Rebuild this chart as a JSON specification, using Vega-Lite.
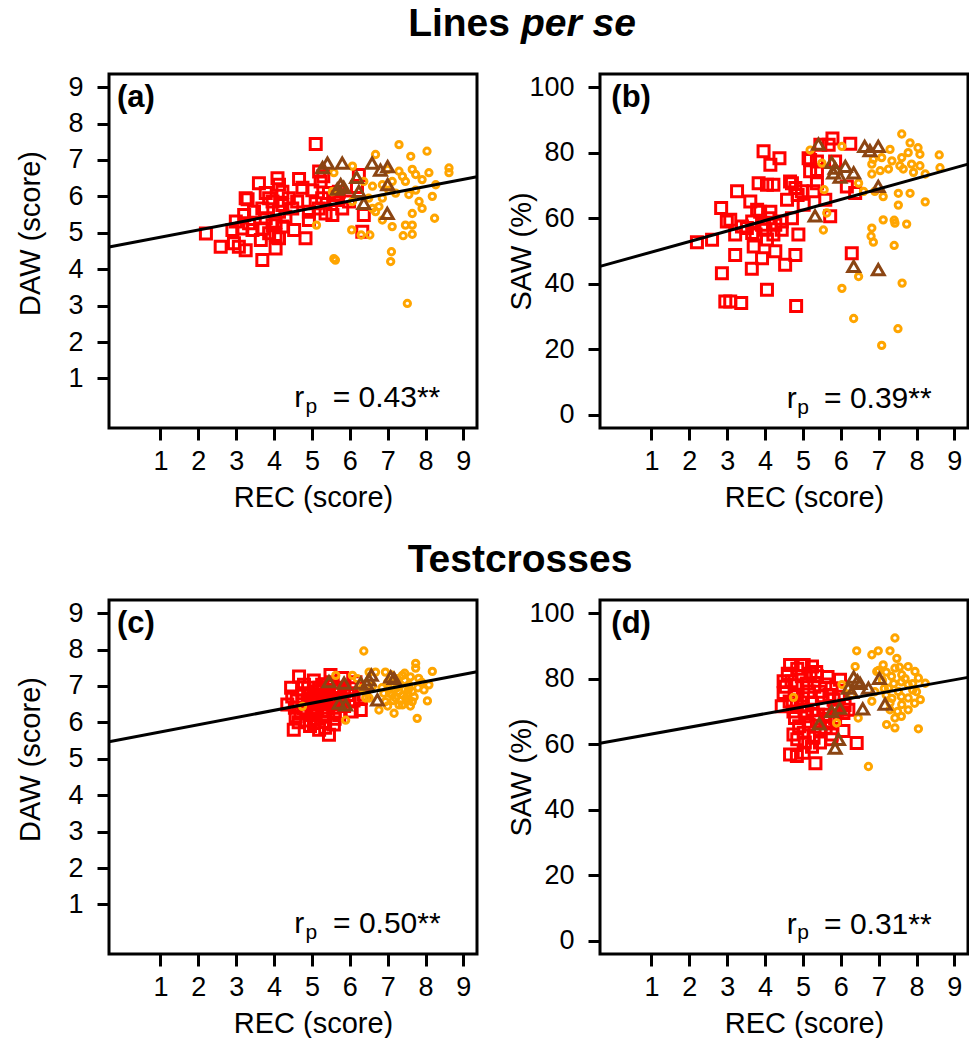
{
  "$schema": "https://vega.github.io/schema/vega-lite/v6.json",
  "padding": {"left": 14, "top": 3, "right": 0, "bottom": 0},
  "config": {
    "font": "Liberation Sans",
    "view": {"stroke": "black", "strokeWidth": 3},
    "axis": {"domain": false, "grid": false, "tickColor": "black", "tickWidth": 3, "tickSize": 12, "labelFontSize": 27, "labelColor": "black", "labelFont": "Liberation Sans", "titleFont": "Liberation Sans", "titleFontSize": 29, "titleFontWeight": "normal", "titleColor": "black", "labelOverlap": false, "labelFlush": false},
    "axisX": {"labelBaseline": "alphabetic", "labelPadding": 29, "titleBaseline": "alphabetic", "titleAlign": "center", "titleX": 204, "titleY": 78},
    "axisY": {"labelPadding": 14, "titleAngle": 270, "titleBaseline": "alphabetic", "titleAlign": "center", "titleX": -70},
    "title": {"font": "Liberation Sans", "fontSize": 39, "fontWeight": "bold", "color": "black", "frame": "group", "baseline": "alphabetic", "offset": 29},
    "point": {"opacity": 1, "filled": false, "strokeWidth": 3},
    "text": {"color": "black", "font": "Liberation Sans", "baseline": "alphabetic"}
  },
  "datasets": {
    "a": [
      {"x":5.10,"y":7.44,"g":"A"},{"x":3.60,"y":6.36,"g":"A"},{"x":4.09,"y":6.50,"g":"A"},{"x":4.13,"y":6.32,"g":"A"},{"x":4.66,"y":6.48,"g":"A"},{"x":3.30,"y":5.92,"g":"A"},{"x":3.78,"y":6.09,"g":"A"},{"x":4.22,"y":6.13,"g":"A"},{"x":4.75,"y":6.24,"g":"A"},{"x":5.01,"y":6.17,"g":"A"},{"x":5.23,"y":6.41,"g":"A"},{"x":5.27,"y":5.95,"g":"A"},{"x":5.45,"y":6.09,"g":"A"},{"x":5.62,"y":5.90,"g":"A"},{"x":5.80,"y":5.67,"g":"A"},{"x":6.24,"y":6.59,"g":"A"},{"x":6.37,"y":5.49,"g":"A"},{"x":6.33,"y":5.03,"g":"A"},{"x":5.54,"y":5.49,"g":"A"},{"x":2.99,"y":5.31,"g":"A"},{"x":3.21,"y":5.49,"g":"A"},{"x":3.47,"y":5.58,"g":"A"},{"x":3.69,"y":5.67,"g":"A"},{"x":3.96,"y":5.86,"g":"A"},{"x":4.22,"y":5.76,"g":"A"},{"x":4.48,"y":5.67,"g":"A"},{"x":4.92,"y":5.58,"g":"A"},{"x":5.10,"y":5.81,"g":"A"},{"x":2.90,"y":5.08,"g":"A"},{"x":3.16,"y":5.12,"g":"A"},{"x":3.43,"y":5.08,"g":"A"},{"x":3.69,"y":5.12,"g":"A"},{"x":3.96,"y":5.21,"g":"A"},{"x":4.22,"y":5.17,"g":"A"},{"x":4.53,"y":5.08,"g":"A"},{"x":2.20,"y":4.98,"g":"A"},{"x":2.59,"y":4.62,"g":"A"},{"x":2.94,"y":4.71,"g":"A"},{"x":3.07,"y":4.62,"g":"A"},{"x":3.25,"y":4.52,"g":"A"},{"x":3.69,"y":4.25,"g":"A"},{"x":4.04,"y":4.57,"g":"A"},{"x":3.65,"y":4.80,"g":"A"},{"x":4.13,"y":4.85,"g":"A"},{"x":4.83,"y":4.85,"g":"A"},{"x":3.78,"y":5.40,"g":"A"},{"x":4.04,"y":5.30,"g":"A"},{"x":4.30,"y":5.44,"g":"A"},{"x":3.34,"y":5.26,"g":"A"},{"x":3.87,"y":5.95,"g":"A"},{"x":4.13,"y":5.58,"g":"A"},{"x":4.39,"y":5.95,"g":"A"},{"x":4.61,"y":5.86,"g":"A"},{"x":3.87,"y":4.99,"g":"A"},{"x":4.04,"y":4.94,"g":"A"},{"x":4.92,"y":5.35,"g":"A"},{"x":5.18,"y":5.67,"g":"A"},{"x":5.36,"y":5.53,"g":"A"},{"x":5.71,"y":6.13,"g":"A"},{"x":5.98,"y":5.86,"g":"A"},{"x":6.19,"y":6.26,"g":"A"},{"x":5.19,"y":6.68,"g":"A"},{"x":5.30,"y":6.55,"g":"A"},{"x":3.25,"y":5.95,"g":"A"},{"x":5.63,"y":6.04,"g":"A"},
      {"x":7.30,"y":7.42,"g":"B"},{"x":8.04,"y":7.24,"g":"B"},{"x":7.61,"y":7.10,"g":"B"},{"x":6.68,"y":7.15,"g":"B"},{"x":6.07,"y":6.83,"g":"B"},{"x":8.62,"y":6.78,"g":"B"},{"x":8.62,"y":6.65,"g":"B"},{"x":8.09,"y":6.65,"g":"B"},{"x":7.65,"y":6.74,"g":"B"},{"x":7.30,"y":6.69,"g":"B"},{"x":7.91,"y":6.46,"g":"B"},{"x":7.47,"y":6.41,"g":"B"},{"x":7.12,"y":6.41,"g":"B"},{"x":6.86,"y":6.32,"g":"B"},{"x":6.60,"y":6.28,"g":"B"},{"x":6.37,"y":6.41,"g":"B"},{"x":5.58,"y":6.65,"g":"B"},{"x":5.54,"y":6.13,"g":"B"},{"x":7.74,"y":6.17,"g":"B"},{"x":8.27,"y":6.32,"g":"B"},{"x":8.18,"y":6.00,"g":"B"},{"x":7.83,"y":5.86,"g":"B"},{"x":7.56,"y":6.05,"g":"B"},{"x":7.21,"y":6.09,"g":"B"},{"x":6.86,"y":5.95,"g":"B"},{"x":6.60,"y":5.67,"g":"B"},{"x":6.77,"y":5.72,"g":"B"},{"x":7.65,"y":5.53,"g":"B"},{"x":7.91,"y":5.67,"g":"B"},{"x":8.24,"y":5.40,"g":"B"},{"x":7.12,"y":5.17,"g":"B"},{"x":7.47,"y":5.21,"g":"B"},{"x":7.65,"y":4.96,"g":"B"},{"x":7.41,"y":4.92,"g":"B"},{"x":6.86,"y":5.35,"g":"B"},{"x":6.68,"y":5.58,"g":"B"},{"x":5.12,"y":5.21,"g":"B"},{"x":6.05,"y":5.08,"g":"B"},{"x":6.30,"y":4.94,"g":"B"},{"x":6.53,"y":4.94,"g":"B"},{"x":5.58,"y":4.29,"g":"B"},{"x":5.62,"y":4.25,"g":"B"},{"x":7.10,"y":4.48,"g":"B"},{"x":7.08,"y":4.21,"g":"B"},{"x":7.52,"y":3.06,"g":"B"},{"x":6.07,"y":5.86,"g":"B"},{"x":6.50,"y":5.95,"g":"B"},{"x":7.03,"y":6.17,"g":"B"},{"x":7.39,"y":6.55,"g":"B"},{"x":7.74,"y":6.60,"g":"B"},{"x":7.00,"y":6.74,"g":"B"},{"x":7.65,"y":5.21,"g":"B"},
      {"x":5.41,"y":6.91,"g":"C"},{"x":5.28,"y":6.79,"g":"C"},{"x":5.80,"y":6.91,"g":"C"},{"x":6.59,"y":6.91,"g":"C"},{"x":6.81,"y":6.72,"g":"C"},{"x":7.00,"y":6.82,"g":"C"},{"x":6.18,"y":6.52,"g":"C"},{"x":5.76,"y":6.32,"g":"C"},{"x":5.84,"y":6.25,"g":"C"},{"x":6.24,"y":6.14,"g":"C"},{"x":7.00,"y":6.32,"g":"C"},{"x":6.37,"y":5.81,"g":"C"},{"x":6.99,"y":5.53,"g":"C"},{"x":5.67,"y":6.20,"g":"C"}
    ],
    "b": [
      {"x":3.96,"y":80.4,"g":"A"},{"x":4.38,"y":78.3,"g":"A"},{"x":4.14,"y":76.3,"g":"A"},{"x":3.26,"y":68.2,"g":"A"},{"x":3.83,"y":70.7,"g":"A"},{"x":4.05,"y":70.2,"g":"A"},{"x":4.22,"y":70.2,"g":"A"},{"x":4.66,"y":71.2,"g":"A"},{"x":4.80,"y":69.2,"g":"A"},{"x":4.58,"y":65.6,"g":"A"},{"x":4.86,"y":67.1,"g":"A"},{"x":2.84,"y":63.1,"g":"A"},{"x":3.61,"y":65.1,"g":"A"},{"x":3.79,"y":62.6,"g":"A"},{"x":2.99,"y":59.0,"g":"A"},{"x":3.08,"y":59.5,"g":"A"},{"x":3.21,"y":55.0,"g":"A"},{"x":3.39,"y":57.5,"g":"A"},{"x":3.66,"y":59.0,"g":"A"},{"x":3.92,"y":58.0,"g":"A"},{"x":4.09,"y":60.0,"g":"A"},{"x":4.27,"y":58.0,"g":"A"},{"x":4.44,"y":56.5,"g":"A"},{"x":4.71,"y":60.0,"g":"A"},{"x":4.14,"y":62.0,"g":"A"},{"x":3.75,"y":55.0,"g":"A"},{"x":4.05,"y":53.5,"g":"A"},{"x":4.27,"y":49.9,"g":"A"},{"x":3.70,"y":51.4,"g":"A"},{"x":3.92,"y":47.8,"g":"A"},{"x":3.21,"y":48.8,"g":"A"},{"x":4.53,"y":45.8,"g":"A"},{"x":4.80,"y":48.8,"g":"A"},{"x":2.86,"y":43.2,"g":"A"},{"x":3.65,"y":44.6,"g":"A"},{"x":2.20,"y":52.7,"g":"A"},{"x":2.60,"y":53.4,"g":"A"},{"x":4.05,"y":38.2,"g":"A"},{"x":2.95,"y":34.6,"g":"A"},{"x":3.08,"y":34.6,"g":"A"},{"x":3.37,"y":34.1,"g":"A"},{"x":4.82,"y":33.2,"g":"A"},{"x":3.52,"y":57.0,"g":"A"},{"x":3.66,"y":55.5,"g":"A"},{"x":4.01,"y":56.5,"g":"A"},{"x":4.22,"y":55.0,"g":"A"},{"x":4.44,"y":59.0,"g":"A"},{"x":3.87,"y":62.0,"g":"A"},{"x":5.78,"y":84.3,"g":"A"},{"x":5.68,"y":82.4,"g":"A"},{"x":5.46,"y":82.4,"g":"A"},{"x":6.25,"y":82.7,"g":"A"},{"x":5.15,"y":78.3,"g":"A"},{"x":5.37,"y":77.3,"g":"A"},{"x":5.85,"y":77.3,"g":"A"},{"x":6.16,"y":69.7,"g":"A"},{"x":5.19,"y":74.3,"g":"A"},{"x":4.71,"y":70.7,"g":"A"},{"x":4.97,"y":68.2,"g":"A"},{"x":5.28,"y":68.2,"g":"A"},{"x":5.37,"y":70.7,"g":"A"},{"x":5.59,"y":65.6,"g":"A"},{"x":5.02,"y":64.1,"g":"A"},{"x":5.72,"y":60.6,"g":"A"},{"x":4.88,"y":55.0,"g":"A"},{"x":6.29,"y":49.3,"g":"A"},{"x":5.37,"y":74.7,"g":"A"},{"x":6.38,"y":67.7,"g":"A"},{"x":5.19,"y":77.8,"g":"A"},
      {"x":7.61,"y":85.7,"g":"B"},{"x":7.83,"y":83.0,"g":"B"},{"x":8.04,"y":81.5,"g":"B"},{"x":8.60,"y":79.3,"g":"B"},{"x":8.09,"y":79.5,"g":"B"},{"x":7.78,"y":80.0,"g":"B"},{"x":7.61,"y":78.5,"g":"B"},{"x":7.30,"y":81.0,"g":"B"},{"x":7.08,"y":78.5,"g":"B"},{"x":6.82,"y":76.5,"g":"B"},{"x":7.35,"y":77.5,"g":"B"},{"x":7.56,"y":76.0,"g":"B"},{"x":7.87,"y":76.5,"g":"B"},{"x":8.09,"y":76.0,"g":"B"},{"x":8.62,"y":75.4,"g":"B"},{"x":8.23,"y":73.5,"g":"B"},{"x":7.92,"y":74.0,"g":"B"},{"x":7.65,"y":75.0,"g":"B"},{"x":7.26,"y":75.0,"g":"B"},{"x":7.04,"y":74.5,"g":"B"},{"x":6.82,"y":73.5,"g":"B"},{"x":6.60,"y":68.2,"g":"B"},{"x":6.47,"y":70.7,"g":"B"},{"x":6.90,"y":68.2,"g":"B"},{"x":7.12,"y":66.6,"g":"B"},{"x":7.52,"y":67.6,"g":"B"},{"x":7.83,"y":67.6,"g":"B"},{"x":8.23,"y":65.0,"g":"B"},{"x":7.52,"y":64.0,"g":"B"},{"x":7.12,"y":59.5,"g":"B"},{"x":7.41,"y":59.4,"g":"B"},{"x":7.43,"y":58.5,"g":"B"},{"x":7.74,"y":58.2,"g":"B"},{"x":6.82,"y":57.0,"g":"B"},{"x":6.80,"y":54.5,"g":"B"},{"x":6.86,"y":52.7,"g":"B"},{"x":7.41,"y":51.7,"g":"B"},{"x":5.56,"y":68.7,"g":"B"},{"x":5.54,"y":56.4,"g":"B"},{"x":5.63,"y":61.6,"g":"B"},{"x":5.19,"y":80.8,"g":"B"},{"x":6.03,"y":81.9,"g":"B"},{"x":5.50,"y":76.8,"g":"B"},{"x":6.47,"y":42.2,"g":"B"},{"x":6.03,"y":38.6,"g":"B"},{"x":7.62,"y":40.2,"g":"B"},{"x":6.34,"y":29.4,"g":"B"},{"x":7.51,"y":26.3,"g":"B"},{"x":7.08,"y":21.2,"g":"B"},{"x":6.86,"y":78.0,"g":"B"},
      {"x":5.41,"y":82.6,"g":"C"},{"x":6.63,"y":81.9,"g":"C"},{"x":6.99,"y":81.9,"g":"C"},{"x":6.77,"y":80.6,"g":"C"},{"x":5.76,"y":77.0,"g":"C"},{"x":5.85,"y":75.3,"g":"C"},{"x":6.12,"y":75.8,"g":"C"},{"x":6.34,"y":73.8,"g":"C"},{"x":5.98,"y":72.5,"g":"C"},{"x":5.81,"y":73.8,"g":"C"},{"x":6.99,"y":69.7,"g":"C"},{"x":5.32,"y":60.7,"g":"C"},{"x":6.34,"y":45.3,"g":"C"},{"x":6.99,"y":44.3,"g":"C"}
    ],
    "c": [
      {"x":4.66,"y":7.26,"g":"A"},{"x":4.79,"y":7.03,"g":"A"},{"x":4.48,"y":6.71,"g":"A"},{"x":4.35,"y":6.49,"g":"A"},{"x":4.57,"y":6.17,"g":"A"},{"x":4.52,"y":5.80,"g":"A"},{"x":5.05,"y":5.98,"g":"A"},{"x":5.19,"y":5.80,"g":"A"},{"x":5.45,"y":5.66,"g":"A"},{"x":5.58,"y":5.94,"g":"A"},{"x":5.49,"y":7.30,"g":"A"},{"x":5.27,"y":7.03,"g":"A"},{"x":5.10,"y":6.75,"g":"A"},{"x":4.92,"y":6.49,"g":"A"},{"x":5.27,"y":6.29,"g":"A"},{"x":5.54,"y":6.49,"g":"A"},{"x":5.80,"y":7.22,"g":"A"},{"x":5.76,"y":6.67,"g":"A"},{"x":6.02,"y":6.94,"g":"A"},{"x":6.29,"y":6.34,"g":"A"},{"x":6.29,"y":6.67,"g":"A"},{"x":4.75,"y":6.80,"g":"A"},{"x":5.14,"y":6.39,"g":"A"},{"x":5.36,"y":6.67,"g":"A"},{"x":5.63,"y":6.89,"g":"A"},{"x":5.72,"y":6.20,"g":"A"},{"x":5.01,"y":6.20,"g":"A"},{"x":4.79,"y":6.39,"g":"A"},{"x":5.32,"y":6.01,"g":"A"},{"x":5.98,"y":6.57,"g":"A"},{"x":6.37,"y":6.76,"g":"A"},{"x":5.00,"y":6.60,"g":"A"},{"x":5.20,"y":6.50,"g":"A"},{"x":5.40,"y":6.40,"g":"A"},{"x":5.10,"y":6.10,"g":"A"},{"x":5.45,"y":6.85,"g":"A"},{"x":4.90,"y":6.95,"g":"A"},{"x":5.60,"y":6.30,"g":"A"},{"x":4.60,"y":6.60,"g":"A"},{"x":5.30,"y":6.90,"g":"A"},{"x":5.55,"y":7.10,"g":"A"},{"x":4.85,"y":6.05,"g":"A"},{"x":5.15,"y":6.85,"g":"A"},{"x":4.45,"y":6.95,"g":"A"},{"x":4.70,"y":6.25,"g":"A"},{"x":4.95,"y":6.75,"g":"A"},{"x":5.05,"y":7.15,"g":"A"},{"x":5.25,"y":6.60,"g":"A"},{"x":5.35,"y":6.20,"g":"A"},{"x":5.50,"y":6.55,"g":"A"},{"x":5.65,"y":6.65,"g":"A"},{"x":5.70,"y":6.95,"g":"A"},{"x":5.85,"y":6.45,"g":"A"},{"x":5.95,"y":6.75,"g":"A"},{"x":6.10,"y":6.60,"g":"A"},{"x":6.15,"y":7.10,"g":"A"},{"x":4.55,"y":6.40,"g":"A"},{"x":4.75,"y":6.60,"g":"A"},{"x":5.00,"y":6.35,"g":"A"},{"x":5.20,"y":6.95,"g":"A"},{"x":5.40,"y":7.05,"g":"A"},{"x":5.60,"y":6.10,"g":"A"},{"x":5.85,"y":6.85,"g":"A"},{"x":6.05,"y":6.30,"g":"A"},{"x":4.65,"y":6.00,"g":"A"},{"x":4.95,"y":5.90,"g":"A"},{"x":5.35,"y":5.85,"g":"A"},{"x":5.25,"y":6.75,"g":"A"},{"x":5.05,"y":6.50,"g":"A"},
      {"x":6.37,"y":7.96,"g":"B"},{"x":7.74,"y":7.62,"g":"B"},{"x":7.74,"y":7.49,"g":"B"},{"x":8.18,"y":7.40,"g":"B"},{"x":8.09,"y":7.03,"g":"B"},{"x":8.05,"y":6.59,"g":"B"},{"x":7.78,"y":6.11,"g":"B"},{"x":7.17,"y":6.25,"g":"B"},{"x":6.77,"y":6.34,"g":"B"},{"x":5.89,"y":6.06,"g":"B"},{"x":6.07,"y":7.29,"g":"B"},{"x":6.68,"y":7.38,"g":"B"},{"x":6.94,"y":7.38,"g":"B"},{"x":7.39,"y":7.29,"g":"B"},{"x":7.56,"y":7.03,"g":"B"},{"x":7.30,"y":6.85,"g":"B"},{"x":7.48,"y":6.67,"g":"B"},{"x":7.65,"y":6.85,"g":"B"},{"x":7.03,"y":6.94,"g":"B"},{"x":7.21,"y":6.67,"g":"B"},{"x":7.39,"y":6.48,"g":"B"},{"x":6.94,"y":6.57,"g":"B"},{"x":6.51,"y":6.67,"g":"B"},{"x":6.33,"y":6.94,"g":"B"},{"x":5.63,"y":7.29,"g":"B"},{"x":4.75,"y":6.44,"g":"B"},{"x":7.82,"y":7.21,"g":"B"},{"x":7.96,"y":6.89,"g":"B"},{"x":7.21,"y":7.12,"g":"B"},{"x":7.34,"y":7.03,"g":"B"},{"x":7.52,"y":6.80,"g":"B"},{"x":7.12,"y":6.76,"g":"B"},{"x":7.65,"y":6.57,"g":"B"},{"x":7.30,"y":6.48,"g":"B"},{"x":6.42,"y":6.67,"g":"B"},{"x":6.51,"y":7.38,"g":"B"},{"x":7.10,"y":7.30,"g":"B"},{"x":7.45,"y":7.15,"g":"B"},{"x":7.60,"y":7.25,"g":"B"},{"x":7.00,"y":7.10,"g":"B"},{"x":6.85,"y":6.95,"g":"B"},{"x":7.05,"y":6.80,"g":"B"},{"x":7.25,"y":6.95,"g":"B"},{"x":7.40,"y":6.75,"g":"B"},{"x":7.55,"y":6.90,"g":"B"},{"x":7.70,"y":6.70,"g":"B"},{"x":7.15,"y":6.60,"g":"B"},{"x":7.35,"y":6.60,"g":"B"},{"x":7.55,"y":6.60,"g":"B"},{"x":7.45,"y":7.35,"g":"B"},{"x":7.25,"y":7.20,"g":"B"},{"x":7.80,"y":6.95,"g":"B"},{"x":6.90,"y":6.80,"g":"B"},{"x":7.60,"y":6.45,"g":"B"},{"x":7.00,"y":6.45,"g":"B"},{"x":6.60,"y":7.00,"g":"B"},{"x":6.20,"y":7.20,"g":"B"},{"x":7.90,"y":7.10,"g":"B"},
      {"x":5.45,"y":7.12,"g":"C"},{"x":5.85,"y":7.08,"g":"C"},{"x":6.29,"y":7.08,"g":"C"},{"x":6.51,"y":7.17,"g":"C"},{"x":6.57,"y":7.30,"g":"C"},{"x":7.08,"y":7.25,"g":"C"},{"x":7.17,"y":7.21,"g":"C"},{"x":6.73,"y":6.62,"g":"C"},{"x":5.89,"y":6.48,"g":"C"},{"x":5.72,"y":6.53,"g":"C"},{"x":6.45,"y":7.05,"g":"C"}
    ],
    "d": [
      {"x":4.66,"y":84.2,"g":"A"},{"x":5.02,"y":84.2,"g":"A"},{"x":5.24,"y":83.7,"g":"A"},{"x":4.70,"y":79.2,"g":"A"},{"x":4.49,"y":79.2,"g":"A"},{"x":4.97,"y":80.7,"g":"A"},{"x":5.37,"y":80.7,"g":"A"},{"x":5.59,"y":78.2,"g":"A"},{"x":5.76,"y":77.1,"g":"A"},{"x":5.98,"y":79.7,"g":"A"},{"x":4.49,"y":75.6,"g":"A"},{"x":4.79,"y":75.1,"g":"A"},{"x":5.15,"y":76.1,"g":"A"},{"x":4.44,"y":71.6,"g":"A"},{"x":4.84,"y":72.1,"g":"A"},{"x":5.24,"y":72.6,"g":"A"},{"x":5.55,"y":71.1,"g":"A"},{"x":6.07,"y":69.5,"g":"A"},{"x":4.79,"y":68.0,"g":"A"},{"x":5.06,"y":68.5,"g":"A"},{"x":5.37,"y":67.0,"g":"A"},{"x":5.68,"y":67.0,"g":"A"},{"x":4.75,"y":63.0,"g":"A"},{"x":5.02,"y":63.5,"g":"A"},{"x":5.28,"y":62.0,"g":"A"},{"x":5.76,"y":63.0,"g":"A"},{"x":6.07,"y":64.0,"g":"A"},{"x":6.42,"y":60.4,"g":"A"},{"x":4.66,"y":56.9,"g":"A"},{"x":4.84,"y":56.4,"g":"A"},{"x":5.02,"y":57.4,"g":"A"},{"x":5.33,"y":54.2,"g":"A"},{"x":5.24,"y":59.2,"g":"A"},{"x":5.50,"y":74.6,"g":"A"},{"x":5.81,"y":73.6,"g":"A"},{"x":5.10,"y":70.0,"g":"A"},{"x":5.40,"y":69.0,"g":"A"},{"x":5.00,"y":74.0,"g":"A"},{"x":5.30,"y":77.5,"g":"A"},{"x":5.60,"y":65.0,"g":"A"},{"x":4.90,"y":65.5,"g":"A"},{"x":5.45,"y":60.5,"g":"A"},{"x":5.90,"y":70.5,"g":"A"},{"x":4.60,"y":81.5,"g":"A"},{"x":5.20,"y":81.5,"g":"A"},{"x":4.55,"y":77.5,"g":"A"},{"x":4.85,"y":78.0,"g":"A"},{"x":5.10,"y":78.5,"g":"A"},{"x":5.45,"y":76.0,"g":"A"},{"x":5.70,"y":75.0,"g":"A"},{"x":5.95,"y":74.5,"g":"A"},{"x":4.65,"y":73.0,"g":"A"},{"x":4.95,"y":71.5,"g":"A"},{"x":5.25,"y":70.5,"g":"A"},{"x":5.60,"y":69.0,"g":"A"},{"x":5.85,"y":68.0,"g":"A"},{"x":6.10,"y":72.0,"g":"A"},{"x":4.75,"y":70.0,"g":"A"},{"x":5.15,"y":66.0,"g":"A"},{"x":5.45,"y":64.5,"g":"A"},{"x":5.75,"y":61.5,"g":"A"},{"x":5.05,"y":60.5,"g":"A"},{"x":4.85,"y":61.5,"g":"A"},{"x":5.35,"y":82.0,"g":"A"},{"x":4.85,"y":83.0,"g":"A"},{"x":5.65,"y":80.5,"g":"A"},{"x":6.20,"y":70.5,"g":"A"},
      {"x":7.43,"y":92.4,"g":"B"},{"x":6.42,"y":88.5,"g":"B"},{"x":6.82,"y":87.3,"g":"B"},{"x":6.99,"y":88.5,"g":"B"},{"x":7.30,"y":88.5,"g":"B"},{"x":7.48,"y":86.2,"g":"B"},{"x":6.38,"y":83.7,"g":"B"},{"x":7.12,"y":84.2,"g":"B"},{"x":7.43,"y":83.2,"g":"B"},{"x":7.78,"y":83.7,"g":"B"},{"x":7.96,"y":82.2,"g":"B"},{"x":7.34,"y":80.7,"g":"B"},{"x":7.61,"y":81.2,"g":"B"},{"x":8.05,"y":80.2,"g":"B"},{"x":8.23,"y":78.6,"g":"B"},{"x":7.78,"y":78.2,"g":"B"},{"x":7.26,"y":77.1,"g":"B"},{"x":7.52,"y":76.1,"g":"B"},{"x":7.78,"y":74.1,"g":"B"},{"x":8.10,"y":73.6,"g":"B"},{"x":7.30,"y":72.6,"g":"B"},{"x":7.61,"y":72.1,"g":"B"},{"x":7.78,"y":70.5,"g":"B"},{"x":7.43,"y":68.0,"g":"B"},{"x":7.21,"y":66.0,"g":"B"},{"x":7.43,"y":65.0,"g":"B"},{"x":8.05,"y":64.7,"g":"B"},{"x":6.82,"y":73.1,"g":"B"},{"x":6.20,"y":77.1,"g":"B"},{"x":6.03,"y":78.2,"g":"B"},{"x":6.29,"y":75.1,"g":"B"},{"x":6.46,"y":68.0,"g":"B"},{"x":5.89,"y":66.5,"g":"B"},{"x":4.75,"y":74.3,"g":"B"},{"x":6.73,"y":53.2,"g":"B"},{"x":6.95,"y":82.2,"g":"B"},{"x":7.10,"y":79.5,"g":"B"},{"x":7.60,"y":79.0,"g":"B"},{"x":7.90,"y":76.5,"g":"B"},{"x":7.20,"y":75.0,"g":"B"},{"x":7.50,"y":70.0,"g":"B"},{"x":7.00,"y":82.5,"g":"B"},{"x":7.20,"y":82.0,"g":"B"},{"x":7.55,"y":83.5,"g":"B"},{"x":7.70,"y":80.0,"g":"B"},{"x":7.90,"y":78.5,"g":"B"},{"x":7.40,"y":78.5,"g":"B"},{"x":7.15,"y":77.0,"g":"B"},{"x":7.60,"y":74.5,"g":"B"},{"x":7.35,"y":74.0,"g":"B"},{"x":7.95,"y":72.5,"g":"B"},{"x":7.60,"y":68.5,"g":"B"},{"x":7.30,"y":70.5,"g":"B"},{"x":8.00,"y":76.0,"g":"B"},{"x":6.90,"y":76.0,"g":"B"},
      {"x":6.34,"y":80.5,"g":"C"},{"x":6.51,"y":78.6,"g":"C"},{"x":6.73,"y":77.1,"g":"C"},{"x":7.02,"y":80.1,"g":"C"},{"x":6.29,"y":75.8,"g":"C"},{"x":6.58,"y":70.8,"g":"C"},{"x":7.17,"y":72.2,"g":"C"},{"x":5.76,"y":70.0,"g":"C"},{"x":5.97,"y":71.0,"g":"C"},{"x":5.43,"y":66.2,"g":"C"},{"x":5.94,"y":61.5,"g":"C"},{"x":5.85,"y":58.8,"g":"C"},{"x":6.20,"y":77.1,"g":"C"},{"x":6.44,"y":79.3,"g":"C"}
    ]
  },
  "columns": 2,
  "bounds": "flush",
  "spacing": {"row": 172, "column": 123},
  "concat": [
    {
      "width": 368, "height": 354,
      "title": {"text": "Lines", "anchor": "end", "dx": 33},
      "layer": [
        {"data": {"name": "a"}, "transform": [{"filter": "datum.g == 'A'"}], "mark": {"type": "point", "shape": "square", "color": "#FF0000", "size": 121},
         "encoding": {
          "x": {"field": "x", "type": "quantitative", "scale": {"domain": [-0.36, 9.36], "nice": false, "zero": false}, "axis": {"values": [1,2,3,4,5,6,7,8,9], "title": "REC (score)"}},
          "y": {"field": "y", "type": "quantitative", "scale": {"domain": [-0.36, 9.36], "nice": false, "zero": false}, "axis": {"values": [1,2,3,4,5,6,7,8,9], "title": "DAW (score)", "titleY": 159}}}},
        {"data": {"name": "a"}, "transform": [{"filter": "datum.g == 'B'"}], "mark": {"type": "point", "shape": "circle", "color": "#FFA500", "size": 40},
         "encoding": {"x": {"field": "x", "type": "quantitative"}, "y": {"field": "y", "type": "quantitative"}}},
        {"data": {"name": "a"}, "transform": [{"filter": "datum.g == 'C'"}], "mark": {"type": "point", "shape": "triangle-up", "color": "#8B4513", "size": 140},
         "encoding": {"x": {"field": "x", "type": "quantitative"}, "y": {"field": "y", "type": "quantitative"}}},
        {"data": {"values": [{"x": -0.36, "y": 4.61}, {"x": 9.36, "y": 6.54}]}, "mark": {"type": "line", "color": "black", "strokeWidth": 3},
         "encoding": {"x": {"field": "x", "type": "quantitative"}, "y": {"field": "y", "type": "quantitative"}}},
        {"data": {"values": [{}]}, "mark": {"type": "text", "align": "left", "fontSize": 31, "fontWeight": "bold"}, "encoding": {"x": {"datum": -0.15, "type": "quantitative"}, "y": {"datum": 8.45, "type": "quantitative"}, "text": {"value": "(a)"}}},
        {"data": {"values": [{}]}, "mark": {"type": "text", "align": "right", "fontSize": 30}, "encoding": {"x": {"datum": 4.80, "type": "quantitative"}, "y": {"datum": 0.22, "type": "quantitative"}, "text": {"value": "r"}}},
        {"data": {"values": [{}]}, "mark": {"type": "text", "align": "right", "fontSize": 21}, "encoding": {"x": {"datum": 5.14, "type": "quantitative"}, "y": {"datum": 0.06, "type": "quantitative"}, "text": {"value": "p"}}},
        {"data": {"values": [{}]}, "mark": {"type": "text", "align": "right", "fontSize": 30}, "encoding": {"x": {"datum": 8.39, "type": "quantitative"}, "y": {"datum": 0.22, "type": "quantitative"}, "text": {"value": "= 0.43**"}}}
      ]
    },
    {
      "width": 368, "height": 354,
      "title": {"text": "per se", "anchor": "start", "dx": -79, "fontStyle": "italic"},
      "layer": [
        {"data": {"name": "b"}, "transform": [{"filter": "datum.g == 'A'"}], "mark": {"type": "point", "shape": "square", "color": "#FF0000", "size": 121},
         "encoding": {
          "x": {"field": "x", "type": "quantitative", "scale": {"domain": [-0.36, 9.36], "nice": false, "zero": false}, "axis": {"values": [1,2,3,4,5,6,7,8,9], "title": "REC (score)"}},
          "y": {"field": "y", "type": "quantitative", "scale": {"domain": [-4, 104], "nice": false, "zero": false}, "axis": {"values": [0,20,40,60,80,100], "title": "SAW (%)", "titleY": 177}}}},
        {"data": {"name": "b"}, "transform": [{"filter": "datum.g == 'B'"}], "mark": {"type": "point", "shape": "circle", "color": "#FFA500", "size": 40},
         "encoding": {"x": {"field": "x", "type": "quantitative"}, "y": {"field": "y", "type": "quantitative"}}},
        {"data": {"name": "b"}, "transform": [{"filter": "datum.g == 'C'"}], "mark": {"type": "point", "shape": "triangle-up", "color": "#8B4513", "size": 140},
         "encoding": {"x": {"field": "x", "type": "quantitative"}, "y": {"field": "y", "type": "quantitative"}}},
        {"data": {"values": [{"x": -0.36, "y": 45.3}, {"x": 9.36, "y": 76.5}]}, "mark": {"type": "line", "color": "black", "strokeWidth": 3},
         "encoding": {"x": {"field": "x", "type": "quantitative"}, "y": {"field": "y", "type": "quantitative"}}},
        {"data": {"values": [{}]}, "mark": {"type": "text", "align": "left", "fontSize": 31, "fontWeight": "bold"}, "encoding": {"x": {"datum": -0.06, "type": "quantitative"}, "y": {"datum": 94, "type": "quantitative"}, "text": {"value": "(b)"}}},
        {"data": {"values": [{}]}, "mark": {"type": "text", "align": "right", "fontSize": 30}, "encoding": {"x": {"datum": 4.84, "type": "quantitative"}, "y": {"datum": 2.0, "type": "quantitative"}, "text": {"value": "r"}}},
        {"data": {"values": [{}]}, "mark": {"type": "text", "align": "right", "fontSize": 21}, "encoding": {"x": {"datum": 5.16, "type": "quantitative"}, "y": {"datum": 0.4, "type": "quantitative"}, "text": {"value": "p"}}},
        {"data": {"values": [{}]}, "mark": {"type": "text", "align": "right", "fontSize": 30}, "encoding": {"x": {"datum": 8.40, "type": "quantitative"}, "y": {"datum": 2.0, "type": "quantitative"}, "text": {"value": "= 0.39**"}}}
      ]
    },
    {
      "width": 368, "height": 354,
      "title": {"text": "Testcrosses", "anchor": "middle", "dx": 227, "offset": 19},
      "layer": [
        {"data": {"name": "c"}, "transform": [{"filter": "datum.g == 'A'"}], "mark": {"type": "point", "shape": "square", "color": "#FF0000", "size": 121},
         "encoding": {
          "x": {"field": "x", "type": "quantitative", "scale": {"domain": [-0.36, 9.36], "nice": false, "zero": false}, "axis": {"values": [1,2,3,4,5,6,7,8,9], "title": "REC (score)"}},
          "y": {"field": "y", "type": "quantitative", "scale": {"domain": [-0.36, 9.36], "nice": false, "zero": false}, "axis": {"values": [1,2,3,4,5,6,7,8,9], "title": "DAW (score)", "titleY": 159}}}},
        {"data": {"name": "c"}, "transform": [{"filter": "datum.g == 'B'"}], "mark": {"type": "point", "shape": "circle", "color": "#FFA500", "size": 40},
         "encoding": {"x": {"field": "x", "type": "quantitative"}, "y": {"field": "y", "type": "quantitative"}}},
        {"data": {"name": "c"}, "transform": [{"filter": "datum.g == 'C'"}], "mark": {"type": "point", "shape": "triangle-up", "color": "#8B4513", "size": 140},
         "encoding": {"x": {"field": "x", "type": "quantitative"}, "y": {"field": "y", "type": "quantitative"}}},
        {"data": {"values": [{"x": -0.36, "y": 5.47}, {"x": 9.36, "y": 7.39}]}, "mark": {"type": "line", "color": "black", "strokeWidth": 3},
         "encoding": {"x": {"field": "x", "type": "quantitative"}, "y": {"field": "y", "type": "quantitative"}}},
        {"data": {"values": [{}]}, "mark": {"type": "text", "align": "left", "fontSize": 31, "fontWeight": "bold"}, "encoding": {"x": {"datum": -0.15, "type": "quantitative"}, "y": {"datum": 8.45, "type": "quantitative"}, "text": {"value": "(c)"}}},
        {"data": {"values": [{}]}, "mark": {"type": "text", "align": "right", "fontSize": 30}, "encoding": {"x": {"datum": 4.80, "type": "quantitative"}, "y": {"datum": 0.22, "type": "quantitative"}, "text": {"value": "r"}}},
        {"data": {"values": [{}]}, "mark": {"type": "text", "align": "right", "fontSize": 21}, "encoding": {"x": {"datum": 5.14, "type": "quantitative"}, "y": {"datum": 0.06, "type": "quantitative"}, "text": {"value": "p"}}},
        {"data": {"values": [{}]}, "mark": {"type": "text", "align": "right", "fontSize": 30}, "encoding": {"x": {"datum": 8.40, "type": "quantitative"}, "y": {"datum": 0.22, "type": "quantitative"}, "text": {"value": "= 0.50**"}}}
      ]
    },
    {
      "width": 368, "height": 354,
      "layer": [
        {"data": {"name": "d"}, "transform": [{"filter": "datum.g == 'A'"}], "mark": {"type": "point", "shape": "square", "color": "#FF0000", "size": 121},
         "encoding": {
          "x": {"field": "x", "type": "quantitative", "scale": {"domain": [-0.36, 9.36], "nice": false, "zero": false}, "axis": {"values": [1,2,3,4,5,6,7,8,9], "title": "REC (score)"}},
          "y": {"field": "y", "type": "quantitative", "scale": {"domain": [-4, 104], "nice": false, "zero": false}, "axis": {"values": [0,20,40,60,80,100], "title": "SAW (%)", "titleY": 177}}}},
        {"data": {"name": "d"}, "transform": [{"filter": "datum.g == 'B'"}], "mark": {"type": "point", "shape": "circle", "color": "#FFA500", "size": 40},
         "encoding": {"x": {"field": "x", "type": "quantitative"}, "y": {"field": "y", "type": "quantitative"}}},
        {"data": {"name": "d"}, "transform": [{"filter": "datum.g == 'C'"}], "mark": {"type": "point", "shape": "triangle-up", "color": "#8B4513", "size": 140},
         "encoding": {"x": {"field": "x", "type": "quantitative"}, "y": {"field": "y", "type": "quantitative"}}},
        {"data": {"values": [{"x": -0.36, "y": 60.3}, {"x": 9.36, "y": 80.4}]}, "mark": {"type": "line", "color": "black", "strokeWidth": 3},
         "encoding": {"x": {"field": "x", "type": "quantitative"}, "y": {"field": "y", "type": "quantitative"}}},
        {"data": {"values": [{}]}, "mark": {"type": "text", "align": "left", "fontSize": 31, "fontWeight": "bold"}, "encoding": {"x": {"datum": -0.06, "type": "quantitative"}, "y": {"datum": 94, "type": "quantitative"}, "text": {"value": "(d)"}}},
        {"data": {"values": [{}]}, "mark": {"type": "text", "align": "right", "fontSize": 30}, "encoding": {"x": {"datum": 4.84, "type": "quantitative"}, "y": {"datum": 2.2, "type": "quantitative"}, "text": {"value": "r"}}},
        {"data": {"values": [{}]}, "mark": {"type": "text", "align": "right", "fontSize": 21}, "encoding": {"x": {"datum": 5.16, "type": "quantitative"}, "y": {"datum": 0.6, "type": "quantitative"}, "text": {"value": "p"}}},
        {"data": {"values": [{}]}, "mark": {"type": "text", "align": "right", "fontSize": 30}, "encoding": {"x": {"datum": 8.40, "type": "quantitative"}, "y": {"datum": 2.2, "type": "quantitative"}, "text": {"value": "= 0.31**"}}}
      ]
    }
  ]
}
